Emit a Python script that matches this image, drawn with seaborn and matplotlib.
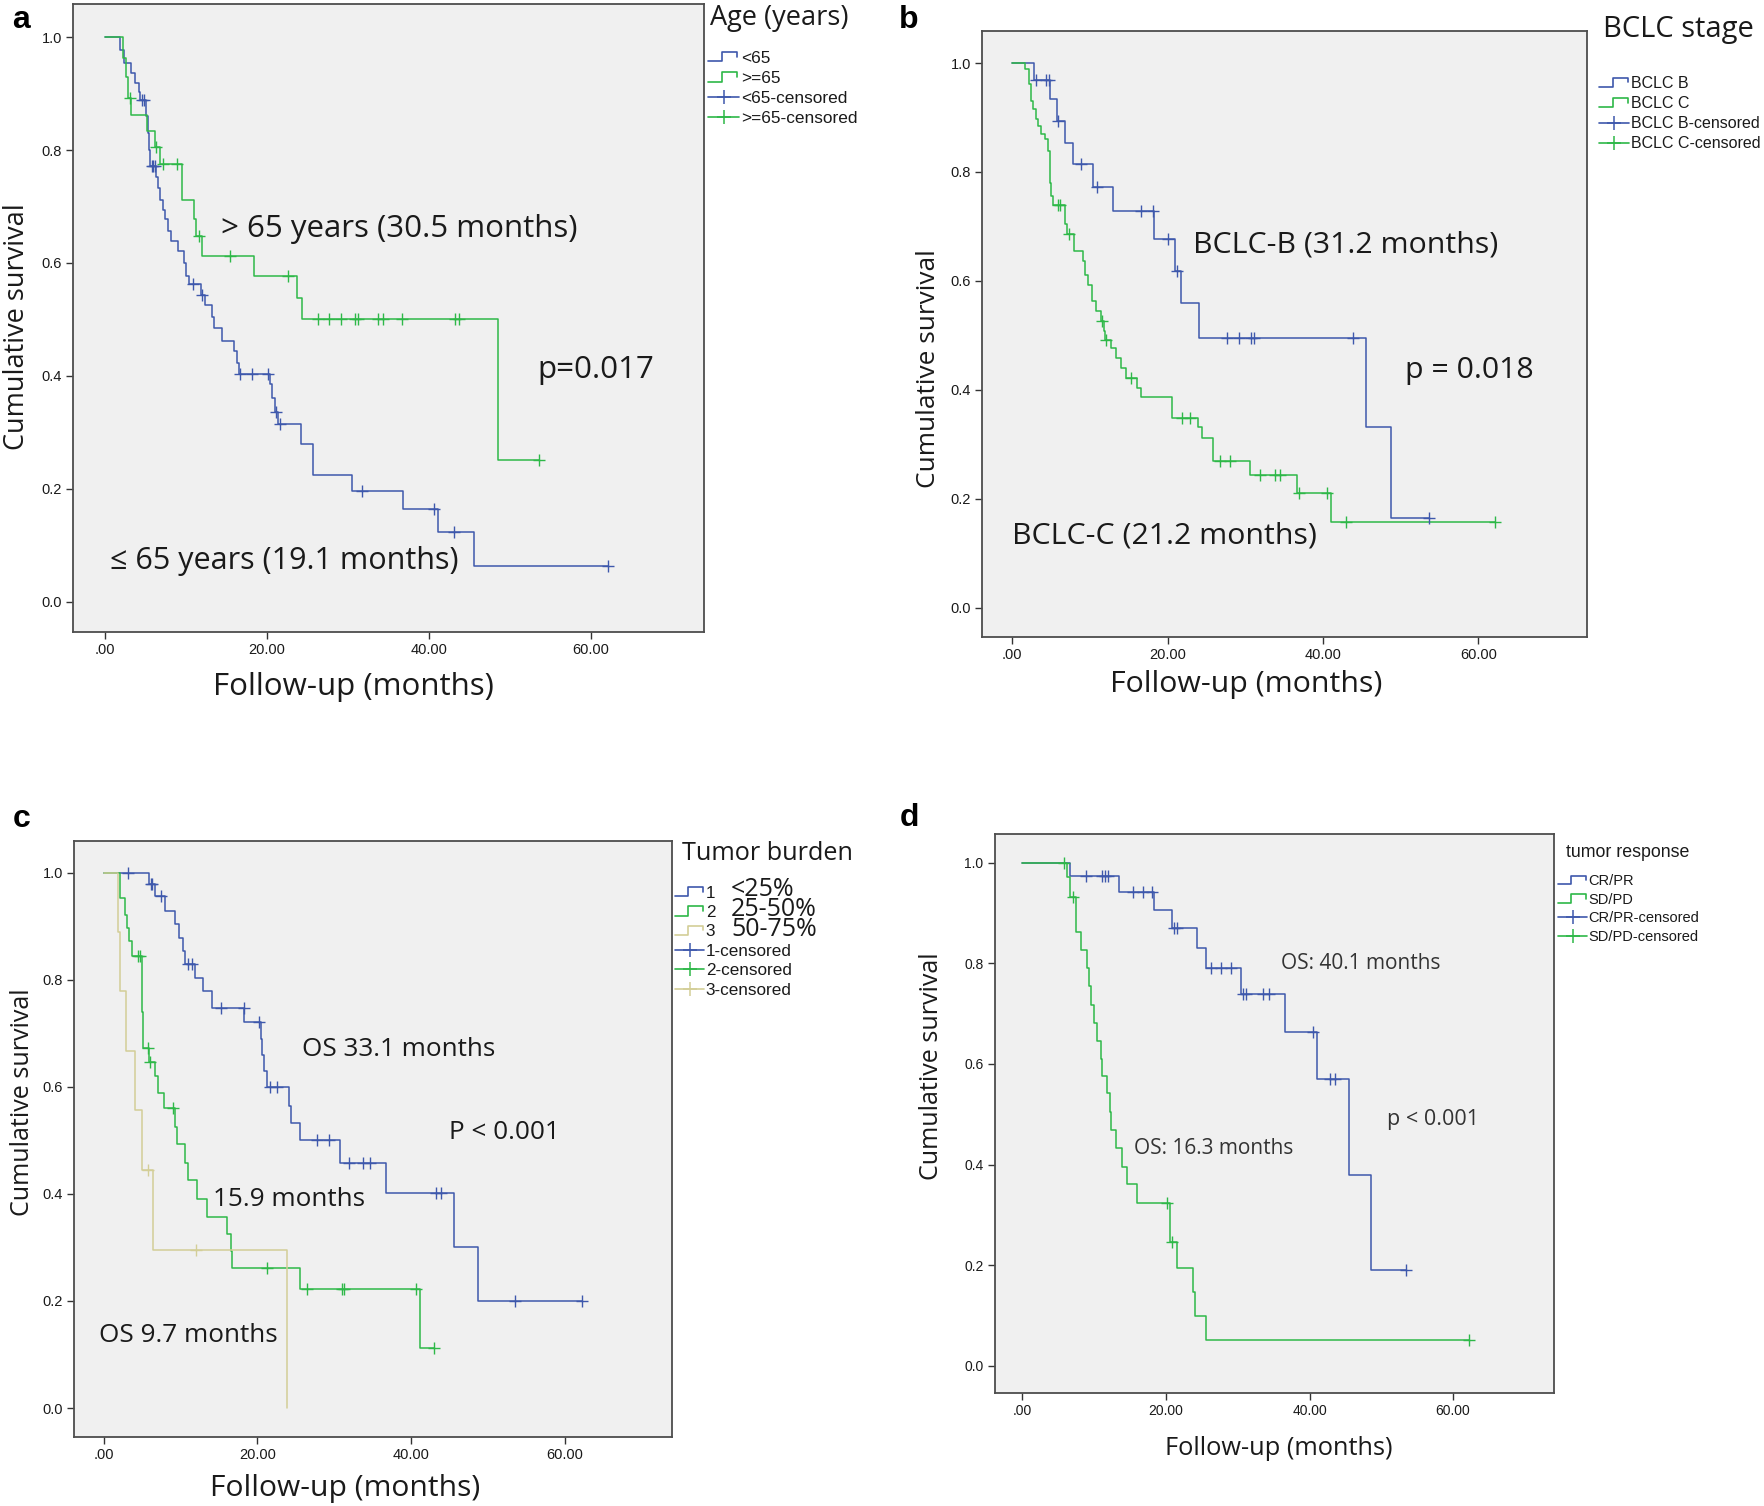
import matplotlib
matplotlib.use('Agg')
import matplotlib.pyplot as plt
import numpy as np
import pandas as pd
import seaborn as sns
from matplotlib.font_manager import FontProperties
from matplotlib.legend_handler import HandlerBase
from matplotlib.lines import Line2D

# ---------------------------------------------------------
# Data
# ---------------------------------------------------------
# a: age
age_lt65_t = [0, 1.9, 2.4, 3.3, 3.8, 4.2, 4.4, 5.1, 5.3, 5.5, 5.6, 6.4, 6.6, 6.8, 7.25, 7.5, 7.8, 8.2, 9.1, 9.85,
              10.1, 10.4, 11.9, 12.4, 13.2, 13.5, 14.45, 16.0, 16.3, 16.6, 20.4, 20.7, 21.0, 21.4, 24.2, 25.7,
              30.5, 36.8, 41.2, 45.6]
age_lt65_s = [1.0, 0.977, 0.954, 0.937, 0.918, 0.903, 0.889, 0.86, 0.83, 0.80, 0.772, 0.753, 0.733, 0.712, 0.694,
              0.677, 0.656, 0.638, 0.621, 0.600, 0.576, 0.562, 0.544, 0.525, 0.505, 0.485, 0.462, 0.444, 0.423,
              0.403, 0.385, 0.36, 0.335, 0.315, 0.279, 0.225, 0.196, 0.164, 0.124, 0.063]
age_lt65_c = [4.6, 4.9, 5.8, 6.0, 6.2, 10.95, 12.0, 16.7, 18.2, 20.2, 21.2, 21.7, 31.8, 40.7, 43.1, 62.1]

age_ge65_t = [0, 2.3, 2.6, 2.9, 3.3, 5.2, 6.2, 6.9, 9.6, 11.0, 11.3, 12.0, 18.5, 23.7, 24.4, 48.6]
age_ge65_s = [1.0, 0.964, 0.93, 0.893, 0.862, 0.834, 0.805, 0.776, 0.711, 0.677, 0.647, 0.612, 0.577, 0.538,
              0.501, 0.25]
age_ge65_c = [3.1, 6.4, 7.2, 9.0, 11.6, 15.5, 22.7, 26.4, 27.7, 29.2, 30.9, 31.3, 33.7, 34.4, 36.7, 43.3, 43.8, 53.6]

# b: BCLC stage
bclc_b_t = [0, 2.8, 4.8, 5.7, 6.75, 7.8, 10.4, 13.0, 18.3, 20.9, 21.7, 24.1, 45.5, 48.7]
bclc_b_s = [1.0, 0.968, 0.934, 0.894, 0.853, 0.814, 0.772, 0.728, 0.676, 0.618, 0.560, 0.496, 0.331, 0.165]
bclc_b_c = [3.0, 4.4, 4.7, 5.9, 8.8, 10.9, 16.6, 18.1, 20.0, 21.2, 27.7, 29.2, 30.7, 31.1, 43.9, 53.6]

bclc_c_t = [0, 1.7, 2.1, 2.4, 2.7, 3.1, 3.3, 3.7, 4.2, 4.6, 4.8, 4.9, 5.0, 5.3, 6.75, 7.0, 8.0, 9.1, 9.3, 9.7,
            10.3, 10.8, 11.4, 11.8, 12.0, 12.7, 13.3, 14.0, 14.6, 16.1, 16.6, 20.5, 23.9, 24.4, 25.8, 30.6, 36.6,
            41.1]
bclc_c_s = [1.0, 0.989, 0.961, 0.931, 0.915, 0.897, 0.885, 0.869, 0.86, 0.839, 0.81, 0.78, 0.755, 0.739, 0.704,
            0.687, 0.655, 0.636, 0.611, 0.593, 0.563, 0.544, 0.526, 0.508, 0.491, 0.477, 0.458, 0.44, 0.421, 0.403,
            0.387, 0.349, 0.331, 0.311, 0.27, 0.244, 0.21, 0.158]
bclc_c_c = [5.9, 6.1, 7.3, 11.6, 12.1, 15.3, 21.8, 22.9, 26.7, 28.0, 31.9, 33.8, 34.5, 36.9, 40.5, 43.0, 62.2]

# c: tumor burden
burden1_t = [0, 5.85, 6.7, 8.0, 9.3, 9.8, 10.3, 10.5, 11.9, 12.9, 14.1, 18.3, 20.5, 20.6, 20.8, 21.3, 24.1, 24.4,
             25.6, 30.7, 36.7, 45.6, 48.7]
burden1_s = [1.0, 0.978, 0.957, 0.928, 0.903, 0.878, 0.853, 0.829, 0.804, 0.779, 0.748, 0.72, 0.69, 0.66, 0.63,
             0.60, 0.565, 0.532, 0.500, 0.458, 0.402, 0.301, 0.200]
burden1_c = [3.1, 6.1, 6.3, 7.4, 11.0, 11.5, 15.3, 18.2, 20.2, 21.6, 22.5, 27.8, 29.3, 31.9, 33.8, 34.6, 43.3, 43.9,
             53.6, 62.3]

burden2_t = [0, 2.15, 2.7, 3.0, 3.25, 3.7, 4.9, 4.95, 5.0, 5.05, 5.1, 5.9, 6.6, 7.0, 7.8, 9.3, 9.5, 10.6, 11.0,
             12.1, 13.4, 16.0, 16.5, 16.7, 25.5, 41.2]
burden2_s = [1.0, 0.953, 0.921, 0.897, 0.872, 0.844, 0.81, 0.775, 0.74, 0.706, 0.672, 0.646, 0.621, 0.589, 0.56,
             0.524, 0.494, 0.458, 0.425, 0.39, 0.357, 0.325, 0.293, 0.262, 0.2225, 0.112]
burden2_c = [4.45, 4.75, 5.8, 6.05, 9.0, 21.2, 26.4, 31.0, 31.3, 40.6, 43.0]

burden3_t = [0, 1.85, 2.15, 2.85, 4.1, 5.0, 6.35, 23.8]
burden3_s = [1.0, 0.889, 0.778, 0.667, 0.556, 0.444, 0.296, 0.0]
burden3_c = [5.7, 12.0]
burden_ranges = ['<25%', '25-50%', '50-75%']

# d: tumor response
crpr_t = [0, 6.6, 13.4, 18.3, 20.9, 24.3, 25.6, 30.5, 36.6, 41.0, 45.5, 48.6]
crpr_s = [1.0, 0.974, 0.943, 0.906, 0.870, 0.830, 0.790, 0.740, 0.664, 0.570, 0.380, 0.191]
crpr_c = [8.8, 11.1, 11.5, 11.9, 15.4, 16.8, 18.1, 21.1, 21.5, 26.3, 27.7, 29.1, 30.7, 31.2, 33.5, 34.4, 40.5,
          42.9, 43.5, 53.4]

sdpd_t = [0, 6.2, 6.6, 7.4, 8.1, 9.0, 9.3, 9.5, 10.0, 10.4, 10.9, 11.1, 11.8, 12.2, 12.4, 13.1, 13.9, 14.6, 16.0,
          20.5, 21.6, 23.7, 24.0, 25.6]
sdpd_s = [1.0, 0.972, 0.932, 0.862, 0.826, 0.79, 0.755, 0.717, 0.682, 0.645, 0.61, 0.576, 0.542, 0.505, 0.468,
          0.432, 0.395, 0.361, 0.324, 0.245, 0.195, 0.147, 0.098, 0.05]
sdpd_c = [5.8, 7.1, 20.2, 20.8, 62.2]

x_ticks = [0, 20, 40, 60]
x_tick_labels = ['.00', '20.00', '40.00', '60.00']
y_ticks = [0.0, 0.2, 0.4, 0.6, 0.8, 1.0]
y_tick_labels = ['0.0', '0.2', '0.4', '0.6', '0.8', '1.0']

BLUE = '#3E58AC'
GREEN = '#2EB848'
TAN = '#D3CE97'
BIG = ['Open Sans', 'DejaVu Sans']
SMALL = ['Liberation Sans', 'DejaVu Sans']
INK = '#1a1a1a'


# ---------------------------------------------------------
# Helpers
# ---------------------------------------------------------
def km_frames(times, surv, cens):
    times = np.asarray(times, float)
    surv = np.asarray(surv, float)
    cens = np.asarray(cens, float)
    idx = np.searchsorted(times, cens, side='right') - 1
    line_t, line_s = times, surv
    if len(cens) and cens.max() > times.max():
        line_t = np.append(times, cens.max())
        line_s = np.append(surv, surv[-1])
    line = pd.DataFrame({'t': line_t, 's': line_s})
    marks = pd.DataFrame({'t': cens, 's': surv[idx]})
    return line, marks


def draw_curve(ax, times, surv, cens, color):
    line, marks = km_frames(times, surv, cens)
    sns.lineplot(data=line, x='t', y='s', drawstyle='steps-post', estimator=None, sort=False,
                 color=color, lw=1.1, ax=ax)
    sns.scatterplot(data=marks, x='t', y='s', marker='+', s=75, color=color, linewidth=1.0,
                    ax=ax, zorder=3)


def style_axes(ax, tick_size):
    ax.set_xlim(-3.9, 74)
    ax.set_ylim(-0.054, 1.058)
    ax.set_xticks(x_ticks)
    ax.set_xticklabels(x_tick_labels)
    ax.set_yticks(y_ticks)
    ax.set_yticklabels(y_tick_labels)
    ax.tick_params(length=5, width=1, color='#333333', labelsize=tick_size, pad=3,
                   direction='out', labelcolor=INK)
    for sp in ax.spines.values():
        sp.set_visible(True)
        sp.set_color('#4d4d4d')
        sp.set_linewidth(1.3)
    ax.set_facecolor('#F0F0F0')


def set_labels(ax, xsize, ysize, xpos, ypos):
    ax.set_xlabel('Follow-up (months)', fontsize=xsize, family=BIG, color=INK)
    ax.set_ylabel('Cumulative survival', fontsize=ysize, family=BIG, color=INK)
    ax.xaxis.set_label_coords(*xpos)
    ax.yaxis.set_label_coords(*ypos)
    ax.xaxis.label.set_verticalalignment('center')
    ax.yaxis.label.set_verticalalignment('center')


class StepHandler(HandlerBase):
    def create_artists(self, legend, orig_handle, xdescent, ydescent, width, height, fontsize, trans):
        x0, y0 = -xdescent, -ydescent
        xs = [x0, x0 + 0.45 * width, x0 + 0.45 * width, x0 + 0.95 * width, x0 + 0.95 * width]
        ys = [y0 + 0.1 * height, y0 + 0.1 * height, y0 + 0.9 * height, y0 + 0.9 * height, y0 + 0.5 * height]
        return [Line2D(xs, ys, color=orig_handle.get_color(), lw=1.2, transform=trans)]


def add_legend(fig, colors, labels, cens_labels, anchor, size, spacing, hlen):
    steps = [Line2D([], [], color=c) for c in colors]
    crosses = [Line2D([], [], color=c, marker='+', markersize=10, mew=1.1, lw=1.2) for c in colors]
    leg = fig.legend(steps + crosses, labels + cens_labels, loc='upper left', bbox_to_anchor=anchor,
                     bbox_transform=fig.transFigure, frameon=False, prop={'family': SMALL, 'size': size},
                     handlelength=hlen, handletextpad=0.1, labelspacing=spacing, borderpad=0,
                     borderaxespad=0, numpoints=1, handler_map={h: StepHandler() for h in steps})
    for t in leg.get_texts():
        t.set_color(INK)
    return leg


# ---------------------------------------------------------
# Figure
# ---------------------------------------------------------
sns.set_theme(style='ticks')
plt.rcParams['font.family'] = SMALL

fig = plt.figure(figsize=(17.64, 15.06), dpi=100)
ax_a = fig.add_axes([0.04138, 0.58035, 0.35771, 0.41667])
ax_b = fig.add_axes([0.55669, 0.57703, 0.34297, 0.40206])
ax_c = fig.add_axes([0.04195, 0.04582, 0.33900, 0.39542])
ax_d = fig.add_axes([0.56378, 0.07520, 0.31689, 0.37118])

# a
draw_curve(ax_a, age_lt65_t, age_lt65_s, age_lt65_c, BLUE)
draw_curve(ax_a, age_ge65_t, age_ge65_s, age_ge65_c, GREEN)
style_axes(ax_a, 10.5)
set_labels(ax_a, 22.5, 19.5, (0.445, -0.088), (-0.089, 0.486))
ax_a.text(14.4, 0.66, '> 65 years (30.5 months)', fontsize=22.5, family=BIG, va='center', color=INK)
ax_a.text(53.4, 0.41, 'p=0.017', fontsize=22.5, family=BIG, va='center', color=INK)
ax_a.text(0.7, 0.072, '\u2264 65 years (19.1 months)', fontsize=22, family=BIG, va='center', color=INK)
fig.text(710 / 1764, 1 - 18 / 1506, 'Age (years)', fontsize=19.5, family=BIG, va='center', color=INK)
add_legend(fig, [BLUE, GREEN], ['<65', '>=65'], ['<65-censored', '>=65-censored'],
           (708 / 1764, 1 - 50.5 / 1506), 12.4, 0.30, 1.8)

# b
draw_curve(ax_b, bclc_b_t, bclc_b_s, bclc_b_c, BLUE)
draw_curve(ax_b, bclc_c_t, bclc_c_s, bclc_c_c, GREEN)
style_axes(ax_b, 10.5)
set_labels(ax_b, 21.8, 18.9, (0.436, -0.078), (-0.088, 0.443))
ax_b.text(23.3, 0.665, 'BCLC-B (31.2 months)', fontsize=21.8, family=BIG, va='center', color=INK)
ax_b.text(50.6, 0.435, 'p = 0.018', fontsize=21.8, family=BIG, va='center', color=INK)
ax_b.text(0.0, 0.132, 'BCLC-C (21.2 months)', fontsize=21.8, family=BIG, va='center', color=INK)
fig.text(1603 / 1764, 1 - 30 / 1506, 'BCLC stage', fontsize=21, family=BIG, va='center', color=INK)
add_legend(fig, [BLUE, GREEN], ['BCLC B', 'BCLC C'], ['BCLC B-censored', 'BCLC C-censored'],
           (1599 / 1764, 1 - 76 / 1506), 11.5, 0.32, 1.9)

# c
draw_curve(ax_c, burden1_t, burden1_s, burden1_c, BLUE)
draw_curve(ax_c, burden2_t, burden2_s, burden2_c, GREEN)
draw_curve(ax_c, burden3_t, burden3_s, burden3_c, TAN)
style_axes(ax_c, 10.5)
set_labels(ax_c, 21.6, 18.1, (0.453, -0.086), (-0.086, 0.563))
ax_c.text(25.8, 0.67, 'OS 33.1 months', fontsize=18.8, family=BIG, va='center', color=INK)
ax_c.text(45.0, 0.514, 'P < 0.001', fontsize=18.8, family=BIG, va='center', color=INK)
ax_c.text(14.2, 0.39, '15.9 months', fontsize=18.8, family=BIG, va='center', color=INK)
ax_c.text(-0.7, 0.136, 'OS 9.7 months', fontsize=18.8, family=BIG, va='center', color=INK)
fig.text(682 / 1764, 1 - 853 / 1506, 'Tumor burden', fontsize=18.2, family=BIG, va='center', color=INK)
add_legend(fig, [BLUE, GREEN, TAN], ['1', '2', '3'], ['1-censored', '2-censored', '3-censored'],
           (675 / 1764, 1 - 885.5 / 1506), 12.3, 0.26, 1.7)
# the percentage ranges sit next to the legend keys as one block (baselines ~20 px apart)
fp = FontProperties(family=BIG, size=18)
renderer = fig.canvas.get_renderer()
_, lp_h, lp_d = renderer.get_text_width_height_descent('lp', fp, ismath=False)
first_baseline = 896.5
row_step = 19.6
fig.text(731 / 1764, 1 - (first_baseline - (lp_h - lp_d)) / 1506, '\n'.join(burden_ranges),
         fontproperties=fp, va='top', linespacing=(row_step - lp_d) / (lp_h - lp_d), color=INK)

# d
draw_curve(ax_d, crpr_t, crpr_s, crpr_c, BLUE)
draw_curve(ax_d, sdpd_t, sdpd_s, sdpd_c, GREEN)
style_axes(ax_d, 10)
set_labels(ax_d, 18.3, 18.1, (0.509, -0.099), (-0.113, 0.584))
ax_d.text(36.0, 0.80, 'OS: 40.1 months', fontsize=15, family=BIG, va='center', color='#333333')
ax_d.text(50.8, 0.49, 'p < 0.001', fontsize=15.5, family=BIG, va='center', color='#333333')
ax_d.text(15.6, 0.432, 'OS: 16.3 months', fontsize=15, family=BIG, va='center', color='#333333')
fig.text(1566 / 1764, 1 - 852 / 1506, 'tumor response', fontsize=12.8, family=SMALL, va='center', color=INK)
add_legend(fig, [BLUE, GREEN], ['CR/PR', 'SD/PD'], ['CR/PR-censored', 'SD/PD-censored'],
           (1558 / 1764, 1 - 874 / 1506), 10.5, 0.32, 2.0)

# panel letters
for letter, (px, py) in zip('abcd', [(21, 20), (909, 20), (22, 819), (909, 818)]):
    fig.text(px / 1764, 1 - py / 1506, letter, fontsize=23, weight='bold', ha='center', va='center',
             family=SMALL, color='black')

fig.savefig('out.png', dpi=100)
